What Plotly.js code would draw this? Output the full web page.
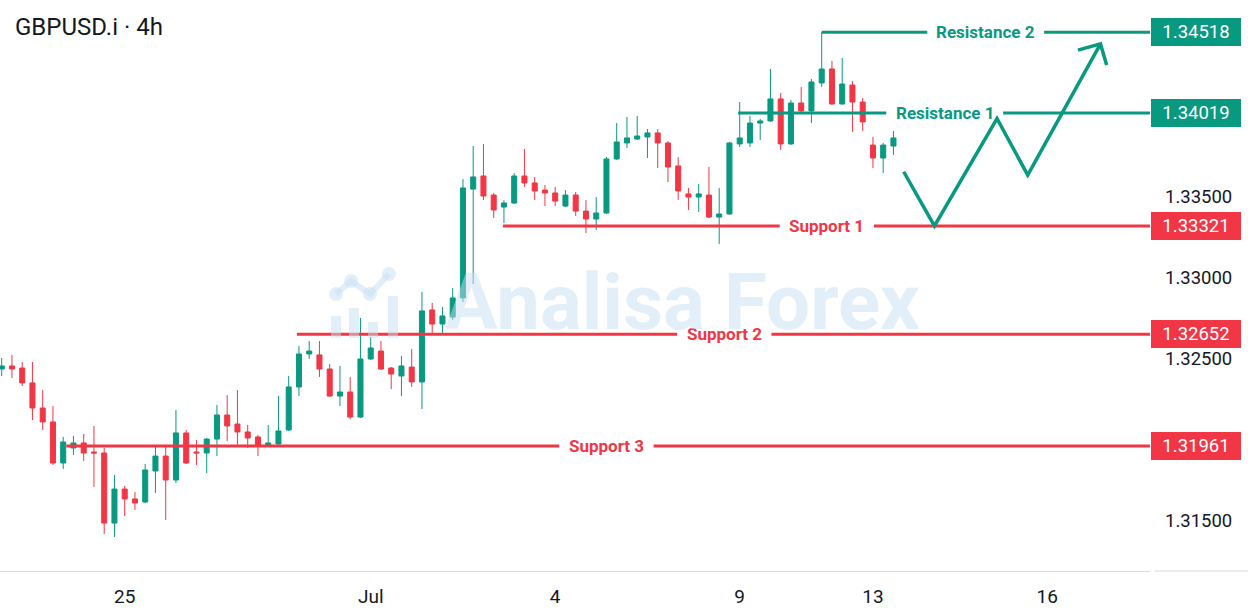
<!DOCTYPE html>
<html><head><meta charset="utf-8">
<script src="https://cdn.plot.ly/plotly-3.0.1.min.js"></script>
<style>html,body{margin:0;padding:0;background:#fff}#chart{width:1248px;height:614px}</style>
</head><body><div id="chart"></div>
<script>
const symbolTitle = 'GBPUSD.i · 4h';

const openP = [1.32437,1.32456,1.32443,1.32351,1.32196,1.32110,1.31856,1.31949,1.31980,1.31924,
1.31918,1.31485,1.31695,1.31634,1.31615,1.31807,1.31899,1.31751,1.32042,1.31924,
1.31918,1.32004,1.32153,1.32097,1.32048,1.32017,1.31967,1.31974,1.32060,1.32326,
1.32530,1.32524,1.32437,1.32270,1.32295,1.32140,1.32499,1.32548,1.32443,1.32394,
1.32449,1.32357,1.32802,1.32715,1.32758,1.32876,1.33549,1.33630,1.33512,1.33438,
1.33463,1.33630,1.33587,1.33543,1.33525,1.33444,1.33512,1.33413,1.33364,1.33401,
1.33735,1.33834,1.33858,1.33871,1.33896,1.33834,1.33692,1.33519,1.33500,1.33512,
1.33376,1.33395,1.33828,1.33834,1.33957,1.33970,1.34106,1.33828,1.34081,1.34032,
1.34205,1.34291,1.34075,1.34192,1.34087,1.33821,1.33741,1.33815];
const highP = [1.32505,1.32524,1.32480,1.32480,1.32307,1.32208,1.32017,1.32023,1.32035,1.32085,
1.31949,1.31782,1.31714,1.31677,1.31850,1.31961,1.31955,1.32184,1.32060,1.31998,
1.32011,1.32215,1.32276,1.32307,1.32091,1.32029,1.32091,1.32270,1.32394,1.32579,
1.32610,1.32610,1.32468,1.32456,1.32388,1.32752,1.32635,1.32610,1.32449,1.32517,
1.32561,1.32913,1.32845,1.32820,1.32938,1.33611,1.33815,1.33828,1.33525,1.33481,
1.33648,1.33797,1.33624,1.33574,1.33562,1.33543,1.33531,1.33481,1.33500,1.33747,
1.33957,1.33994,1.34001,1.33920,1.33920,1.33846,1.33747,1.33556,1.33580,1.33685,
1.33556,1.33840,1.34087,1.34001,1.33982,1.34291,1.34143,1.34100,1.34180,1.34229,
1.34518,1.34341,1.34359,1.34217,1.34112,1.33871,1.33834,1.33908];
const lowP = [1.32394,1.32381,1.32332,1.32122,1.32060,1.31844,1.31819,1.31906,1.31869,1.31708,
1.31417,1.31399,1.31529,1.31566,1.31609,1.31671,1.31504,1.31733,1.31850,1.31844,
1.31794,1.31899,1.31992,1.31967,1.31949,1.31899,1.31955,1.31967,1.32054,1.32270,
1.32499,1.32388,1.32265,1.32208,1.32128,1.32134,1.32493,1.32431,1.32313,1.32270,
1.32326,1.32190,1.32660,1.32653,1.32740,1.32851,1.32962,1.33481,1.33370,1.33339,
1.33457,1.33562,1.33481,1.33444,1.33444,1.33438,1.33383,1.33278,1.33296,1.33395,
1.33730,1.33803,1.33852,1.33741,1.33679,1.33593,1.33481,1.33420,1.33407,1.33370,
1.33210,1.33390,1.33809,1.33809,1.33852,1.33965,1.33791,1.33822,1.34025,1.33957,
1.34180,1.34069,1.34070,1.33902,1.33908,1.33679,1.33648,1.33760];
const closeP = [1.32456,1.32437,1.32351,1.32196,1.32110,1.31856,1.31986,1.31980,1.31918,1.31918,
1.31485,1.31695,1.31634,1.31609,1.31813,1.31899,1.31751,1.32042,1.31856,1.31918,
1.32004,1.32153,1.32085,1.32048,1.32011,1.31967,1.31980,1.32054,1.32326,1.32530,
1.32548,1.32437,1.32270,1.32295,1.32140,1.32499,1.32567,1.32437,1.32406,1.32456,
1.32357,1.32796,1.32715,1.32765,1.32876,1.33556,1.33624,1.33506,1.33420,1.33463,
1.33630,1.33587,1.33537,1.33525,1.33475,1.33512,1.33413,1.33364,1.33401,1.33735,
1.33840,1.33865,1.33877,1.33896,1.33834,1.33685,1.33537,1.33500,1.33519,1.33376,
1.33395,1.33834,1.33865,1.33957,1.33970,1.34106,1.33828,1.34081,1.34032,1.34211,
1.34291,1.34075,1.34198,1.34087,1.33964,1.33741,1.33821,1.33865];

const tickPositions = [12, 36, 54, 72, 85, 102];
const tickLabels = ['25', 'Jul', '4', '9', '13', '16'];
const priceTicks = [1.315, 1.325, 1.330, 1.335];

const levelNames = ['Resistance 2', 'Resistance 1', 'Support 1', 'Support 2', 'Support 3'];
const levelValues = [1.34518, 1.34019, 1.33321, 1.32652, 1.31961];
const levelStart = [80, 71.85, 48.9, 28.8, 6.3];
const levelLabelAt = [96.0, 92.0, 80.5, 70.5, 59.0];

const scenarioX = [88.0, 91.0, 97.1, 100.1, 107.2];
const scenarioY = [1.33656, 1.33321, 1.33985, 1.33636, 1.34446];
const arrowHeadX = [105.0, 107.2, 107.8];
const arrowHeadY = [1.34408, 1.34446, 1.34316];

const GREEN = '#089981', RED = '#F23645', TEXT = '#131722';
const X_RANGE = [-0.166, 112.03];
const Y_RANGE = [1.311887, 1.347175];
const W = 1150, H = 571;
const pxX = v => v / W, pxY = v => 1 - v / H;

const idx = openP.map((_, i) => i);

const shapes = [];
const annotations = [];

levelValues.forEach((v, i) => {
  const c = i < 2 ? GREEN : RED;
  const half = i < 2 ? 5.7 : 4.6;
  shapes.push({type:'line', xref:'x', yref:'y', x0: levelStart[i], x1: levelLabelAt[i] - half, y0: v, y1: v, line:{color:c, width:3}, layer:'above'});
  shapes.push({type:'line', xref:'x', yref:'y', x0: levelLabelAt[i] + half, x1: X_RANGE[1], y0: v, y1: v, line:{color:c, width:3}, layer:'above'});
  annotations.push({xref:'x', yref:'y', x: levelLabelAt[i], y: v, text: levelNames[i], showarrow:false, xanchor:'center', yanchor:'middle',
    font:{family:'Roboto', size:17, color:c, weight:700}});
  annotations.push({xref:'paper', yref:'y', x: 1.0009, y: v, text: v.toFixed(5), showarrow:false, xanchor:'left', yanchor:'middle',
    bgcolor:c, bordercolor:c, borderwidth:1, borderpad:2, width:84, height:22,
    font:{family:'Roboto', size:18.5, color:'#ffffff'}});
});

// scenario zig-zag arrow
let pth = 'M ' + scenarioX.map((x, i) => x + ',' + scenarioY[i]).join(' L ');
pth += ' M ' + arrowHeadX.map((x, i) => x + ',' + arrowHeadY[i]).join(' L ');
shapes.push({type:'path', xref:'x', yref:'y', path: pth, line:{color:GREEN, width:3.5}, layer:'above'});

// watermark logo
const WM = '#c8e0f2';
const WM_OP = 0.5;
const bars = [[336, 316], [354, 308], [373, 322], [393, 296]];
bars.forEach(b => shapes.push({type:'rect', xref:'paper', yref:'paper', x0:pxX(b[0]-5), x1:pxX(b[0]+5), y0:pxY(338), y1:pxY(b[1]), fillcolor:WM, line:{width:0}, opacity:WM_OP, layer:'above'}));
const nodes = [[336, 294], [351, 281], [370, 294], [389, 274]];
shapes.push({type:'path', xref:'paper', yref:'paper', path:'M ' + nodes.map(n => pxX(n[0]) + ',' + pxY(n[1])).join(' L '), line:{color:WM, width:6}, opacity:WM_OP, layer:'above'});
nodes.forEach(n => shapes.push({type:'circle', xref:'paper', yref:'paper', x0:pxX(n[0]-7), x1:pxX(n[0]+7), y0:pxY(n[1]+7), y1:pxY(n[1]-7), fillcolor:WM, line:{width:0}, opacity:WM_OP, layer:'above'}));

annotations.push({xref:'paper', yref:'paper', x: pxX(682), y: pxY(302), text:'Analisa Forex', showarrow:false, xanchor:'center', yanchor:'middle',
  font:{family:'Roboto', size:78, weight:700, color:'rgba(200,224,242,0.5)'}});

// axis line continuation under price scale
shapes.push({type:'line', xref:'paper', yref:'paper', x0:1.004, x1:1248/W, y0:0, y1:0, line:{color:'#d6dae3', width:1}});

const data = [{
  type:'candlestick', x: idx, open: openP, high: highP, low: lowP, close: closeP,
  increasing:{line:{color:GREEN, width:1}, fillcolor:GREEN},
  decreasing:{line:{color:RED, width:1}, fillcolor:RED},
  whiskerwidth:0, hoverinfo:'skip'
}];

const layout = {
  width:1248, height:614,
  margin:{l:0, r:98, t:0, b:43},
  paper_bgcolor:'#ffffff', plot_bgcolor:'#ffffff',
  showlegend:false,
  title:{text: symbolTitle, xref:'container', yref:'container', x: 15/1248, y: 1 - 27/614, xanchor:'left', yanchor:'middle',
    font:{family:'Roboto', size:24, color:TEXT}},
  xaxis:{range:X_RANGE, tickmode:'array', tickvals:tickPositions, ticktext:tickLabels, showgrid:false, zeroline:false,
    showline:true, linecolor:'#d6dae3', linewidth:1, ticks:'', ticklabelstandoff:8,
    tickfont:{family:'Roboto', size:19, color:TEXT}, rangeslider:{visible:false}, fixedrange:true},
  yaxis:{side:'right', range:Y_RANGE, tickmode:'array', tickvals:priceTicks, ticktext:priceTicks.map(v => v.toFixed(5)),
    showgrid:false, zeroline:false, showline:false, ticks:'', ticklabelstandoff:14,
    tickfont:{family:'Roboto', size:18.5, color:TEXT}, fixedrange:true},
  shapes, annotations
};

Plotly.newPlot('chart', data, layout, {staticPlot:true, displayModeBar:false});
</script>
</body></html>
